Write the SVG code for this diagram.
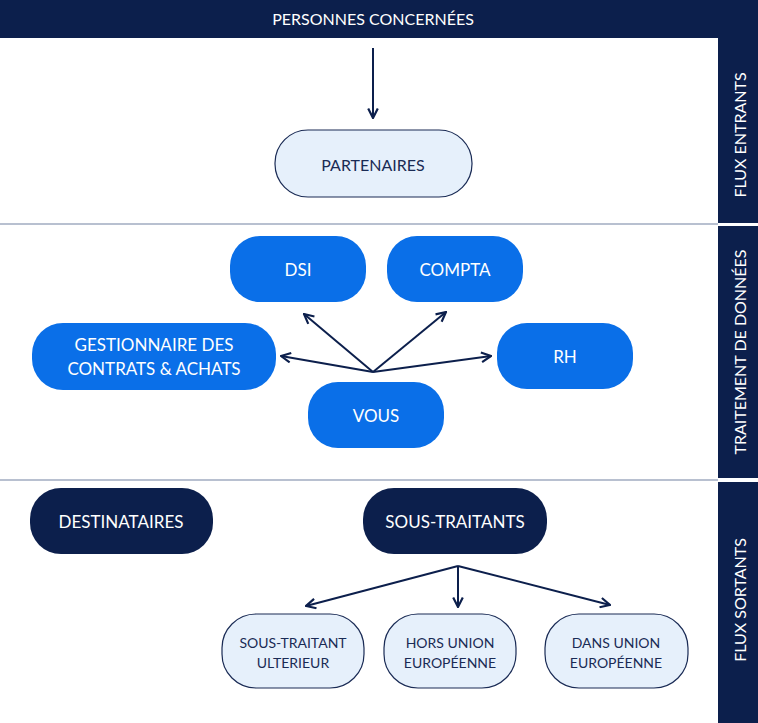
<svg xmlns="http://www.w3.org/2000/svg" width="758" height="723" viewBox="0 0 758 723">
<style>
text{font-family:"Lato","Liberation Sans",sans-serif;text-anchor:middle;dominant-baseline:central}
.lt{fill:#e6f0fb;stroke:#1a2b55;stroke-width:1.2}
.bl{fill:#0a6fe8}
.dk{fill:#0c1f4c}
.tl{fill:#1a2b55;font-size:16px}
.tw{fill:#fff;font-size:17px}
.ts{fill:#1a2b55;font-size:14px}
.sd{fill:#fff;font-size:16px}
.cn{stroke:#0c1f4c;stroke-width:2;fill:none;marker-end:url(#ah)}
</style>
<defs><marker id="ah" viewBox="0 0 10 10" refX="9" refY="5" markerWidth="6" markerHeight="6" orient="auto"><path d="M1 1L9 5L1 9" fill="none" stroke="#0c1f4c" stroke-width="1.8"/></marker></defs>
<rect width="758" height="723" fill="#fff"/>
<g id="header"><rect x="0" y="0" width="758" height="38" class="dk"/><text x="373" y="18" class="sd">PERSONNES CONCERNÉES</text></g>
<g id="sidebars">
<rect x="718" y="38" width="40" height="185" class="dk"/>
<rect x="718" y="226" width="40" height="252" class="dk"/>
<rect x="718" y="482" width="40" height="241" class="dk"/>
<text transform="translate(739,135) rotate(-90)" class="sd">FLUX ENTRANTS</text>
<text transform="translate(739,352) rotate(-90)" class="sd">TRAITEMENT DE DONNÉES</text>
<text transform="translate(739,600) rotate(-90)" class="sd">FLUX SORTANTS</text>
</g>
<g id="separators" stroke="#b8c0d0" stroke-width="2"><line x1="0" y1="224" x2="718" y2="224"/><line x1="0" y1="480" x2="718" y2="480"/></g>
<g id="connectors">
<line x1="373" y1="48" x2="373" y2="118" class="cn"/>
<line x1="373" y1="372" x2="304" y2="314" class="cn"/>
<line x1="373" y1="372" x2="446" y2="312" class="cn"/>
<line x1="373" y1="372" x2="281" y2="356" class="cn"/>
<line x1="373" y1="372" x2="491" y2="356" class="cn"/>
<line x1="458" y1="566" x2="306" y2="606" class="cn"/>
<line x1="458" y1="566" x2="458" y2="607" class="cn"/>
<line x1="458" y1="566" x2="610" y2="605" class="cn"/>
</g>
<g id="partenaires"><rect x="275" y="130" width="197" height="67" rx="33" class="lt"/><text x="373" y="164" class="tl">PARTENAIRES</text></g>
<g id="dsi"><rect x="230" y="236" width="136" height="66" rx="30" class="bl"/><text x="298" y="269" class="tw">DSI</text></g>
<g id="compta"><rect x="387" y="236" width="136" height="66" rx="30" class="bl"/><text x="455" y="269" class="tw">COMPTA</text></g>
<g id="gestionnaire"><rect x="32" y="323" width="244" height="67" rx="31" class="bl"/><text x="154" y="344" class="tw">GESTIONNAIRE DES</text><text x="154" y="368" class="tw">CONTRATS &amp; ACHATS</text></g>
<g id="rh"><rect x="497" y="323" width="136" height="66" rx="30" class="bl"/><text x="565" y="356" class="tw">RH</text></g>
<g id="vous"><rect x="308" y="382" width="136" height="66" rx="30" class="bl"/><text x="376" y="415" class="tw">VOUS</text></g>
<g id="destinataires"><rect x="30" y="488" width="183" height="66" rx="31" class="dk"/><text x="121" y="521" class="tw">DESTINATAIRES</text></g>
<g id="sous-traitants"><rect x="363" y="488" width="184" height="66" rx="31" class="dk"/><text x="455" y="521" class="tw">SOUS-TRAITANTS</text></g>
<g id="ulterieur"><rect x="222" y="614" width="142" height="74" rx="34" class="lt"/><text x="293" y="642" class="ts">SOUS-TRAITANT</text><text x="293" y="662" class="ts">ULTERIEUR</text></g>
<g id="hors-ue"><rect x="384" y="614" width="132" height="74" rx="34" class="lt"/><text x="450" y="642" class="ts">HORS UNION</text><text x="450" y="662" class="ts">EUROPÉENNE</text></g>
<g id="dans-ue"><rect x="545" y="614" width="143" height="74" rx="34" class="lt"/><text x="616" y="642" class="ts">DANS UNION</text><text x="616" y="662" class="ts">EUROPÉENNE</text></g>
</svg>
